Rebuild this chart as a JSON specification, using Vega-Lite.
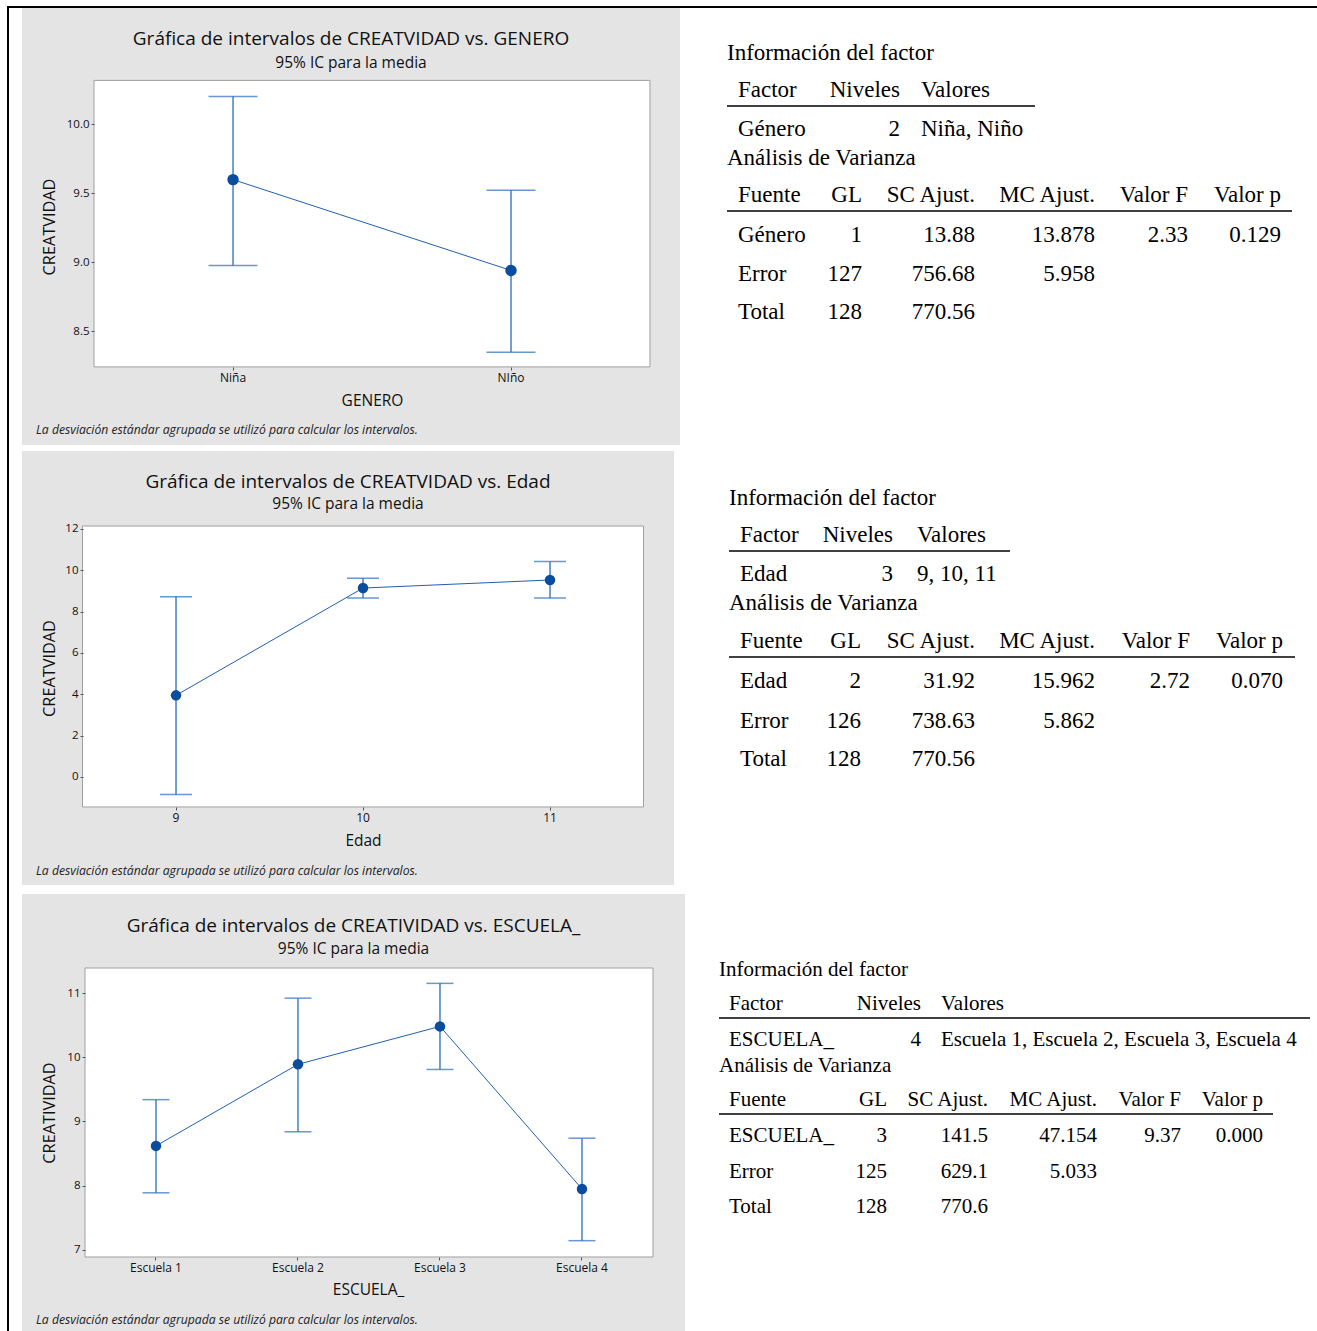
{
 "$schema": "https://vega.github.io/schema/vega-lite/v6.json",
 "background": "white",
 "padding": {"left": 7, "top": 6, "right": 0, "bottom": 0},
 "config": {"view": {"stroke": null}, "axis": {"grid": false}},
 "spacing": 0,
 "vconcat": [
  {"width": 1310, "height": 2, "view": {"fill": "black", "stroke": null}, "data": {"values": [{}]}, "mark": {"type": "point", "size": 0, "opacity": 0}},
  {"spacing": 13, "hconcat": [
   {"width": 2, "height": 1323, "view": {"fill": "black", "stroke": null}, "data": {"values": [{}]}, "mark": {"type": "point", "size": 0, "opacity": 0}},
   {"spacing": 6, "vconcat": [
    {"spacing": 0, "hconcat": [
     {"spacing": 0,
      "title": {"text": "La desviación estándar agrupada se utilizó para calcular los intervalos.", "orient": "bottom", "anchor": "start", "offset": -21, "dx": 14, "font": "Open Sans", "fontSize": 12.2, "fontStyle": "italic", "fontWeight": "normal", "color": "#222222"},
      "vconcat": [
      {"width": 658, "height": 437,
       "view": {"fill": "#e4e4e4", "stroke": null},
       "title": {"text": "Gráfica de intervalos de CREATVIDAD vs. GENERO", "subtitle": "95% IC para la media", "anchor": "middle", "offset": -63, "font": "Open Sans", "fontSize": 19, "fontWeight": "normal", "color": "#111111", "subtitleFont": "Open Sans", "subtitleFontSize": 15.5, "subtitleColor": "#111111", "subtitlePadding": 7},
       "data": {"values": [
        {"GENERO": "Niña", "media": 9.597, "inf": 8.975, "sup": 10.2},
        {"GENERO": "NIño", "media": 8.939, "inf": 8.346, "sup": 9.52}
       ]},
       "resolve": {"scale": {"x": "independent"}, "axis": {"x": "independent"}},
       "layer": [
        {"data": {"values": [{}]}, "mark": {"type": "rect", "fill": "white", "stroke": "#a0a0a0", "strokeWidth": 1},
         "encoding": {
          "x": {"datum": -0.5, "type": "quantitative", "scale": {"domain": [-0.759, 1.608], "nice": false, "zero": false}, "axis": null},
          "x2": {"datum": 1.5},
          "y": {"datum": 10.316, "type": "quantitative", "scale": {"domain": [7.674, 10.8406], "nice": false, "zero": false},
           "axis": {"zindex": 1, "values": [8.5, 9, 9.5, 10], "format": ".1f", "offset": -72, "domain": false, "tickSize": 3, "tickColor": "#555555", "labelFont": "Open Sans", "labelFontSize": 11.5, "labelColor": "#111111", "labelPadding": 2, "title": "CREATVIDAD", "titleFont": "Open Sans", "titleFontSize": 16.3, "titleFontWeight": "normal", "titleColor": "#111111", "titlePadding": 9}},
          "y2": {"datum": 8.24}}},
        {"encoding": {
          "x": {"field": "GENERO", "type": "nominal",
           "scale": {"domain": ["Niña", "NIño"], "type": "band", "paddingInner": 0, "paddingOuter": 0.1835, "align": 0.706},
           "axis": {"zindex": 1, "offset": -78, "domain": false, "tickSize": 3, "tickColor": "#555555", "labelAngle": 0, "labelFont": "Open Sans", "labelFontSize": 12, "labelColor": "#111111", "labelPadding": 2, "title": "GENERO", "titleFont": "Open Sans", "titleFontSize": 15.5, "titleFontWeight": "normal", "titleColor": "#111111", "titlePadding": 10, "titleX": 350}},
          "y": {"field": "media", "type": "quantitative",
           "scale": {"domain": [7.674, 10.8406], "nice": false, "zero": false},
           "axis": {"zindex": 1, "values": [8.5, 9, 9.5, 10], "format": ".1f", "offset": -72, "domain": false, "tickSize": 3, "tickColor": "#555555", "labelFont": "Open Sans", "labelFontSize": 11.5, "labelColor": "#111111", "labelPadding": 2, "title": "CREATVIDAD", "titleFont": "Open Sans", "titleFontSize": 16.3, "titleFontWeight": "normal", "titleColor": "#111111", "titlePadding": 9}}
         },
         "layer": [
          {"mark": {"type": "rule", "color": "#2a6bbd", "strokeWidth": 1.3},
           "encoding": {"y": {"field": "inf", "type": "quantitative", "scale": {"domain": [7.674, 10.8406], "nice": false, "zero": false},
             "axis": {"zindex": 1, "values": [8.5, 9, 9.5, 10], "format": ".1f", "offset": -72, "domain": false, "tickSize": 3, "tickColor": "#555555", "labelFont": "Open Sans", "labelFontSize": 11.5, "labelColor": "#111111", "labelPadding": 2, "title": "CREATVIDAD", "titleFont": "Open Sans", "titleFontSize": 16.3, "titleFontWeight": "normal", "titleColor": "#111111", "titlePadding": 9}},
            "y2": {"field": "sup"}}},
          {"mark": {"type": "tick", "color": "#2a6bbd", "size": 49, "thickness": 1.5},
           "encoding": {"y": {"field": "sup", "type": "quantitative", "scale": {"domain": [7.674, 10.8406], "nice": false, "zero": false},
             "axis": {"zindex": 1, "values": [8.5, 9, 9.5, 10], "format": ".1f", "offset": -72, "domain": false, "tickSize": 3, "tickColor": "#555555", "labelFont": "Open Sans", "labelFontSize": 11.5, "labelColor": "#111111", "labelPadding": 2, "title": "CREATVIDAD", "titleFont": "Open Sans", "titleFontSize": 16.3, "titleFontWeight": "normal", "titleColor": "#111111", "titlePadding": 9}}}},
          {"mark": {"type": "tick", "color": "#2a6bbd", "size": 49, "thickness": 1.5},
           "encoding": {"y": {"field": "inf", "type": "quantitative", "scale": {"domain": [7.674, 10.8406], "nice": false, "zero": false},
             "axis": {"zindex": 1, "values": [8.5, 9, 9.5, 10], "format": ".1f", "offset": -72, "domain": false, "tickSize": 3, "tickColor": "#555555", "labelFont": "Open Sans", "labelFontSize": 11.5, "labelColor": "#111111", "labelPadding": 2, "title": "CREATVIDAD", "titleFont": "Open Sans", "titleFontSize": 16.3, "titleFontWeight": "normal", "titleColor": "#111111", "titlePadding": 9}}}},
          {"mark": {"type": "line", "color": "#1f5fb0", "strokeWidth": 1}},
          {"mark": {"type": "point", "filled": true, "opacity": 1, "color": "#0a4c9e", "size": 130}}
         ]}
       ]}
     ]},
     {"width": 637, "height": 437,
      "view": {"fill": null, "stroke": null},
      "data": {"values": [
       {"r": 0, "c": 0, "t": "Información del factor"},
       {"r": 1, "c": 1, "t": "Factor"}, {"r": 1, "c": 3, "t": "Niveles"}, {"r": 1, "c": 4, "t": "Valores"},
       {"r": 2, "c": 1, "t": "Género"}, {"r": 2, "c": 3, "t": "2"}, {"r": 2, "c": 4, "t": "Niña, Niño"},
       {"r": 3, "c": 0, "t": "Análisis de Varianza"},
       {"r": 4, "c": 1, "t": "Fuente"}, {"r": 4, "c": 2, "t": "GL"}, {"r": 4, "c": 5, "t": "SC Ajust."}, {"r": 4, "c": 7, "t": "MC Ajust."}, {"r": 4, "c": 8, "t": "Valor F"}, {"r": 4, "c": 9, "t": "Valor p"},
       {"r": 5, "c": 1, "t": "Género"}, {"r": 5, "c": 2, "t": "1"}, {"r": 5, "c": 5, "t": "13.88"}, {"r": 5, "c": 7, "t": "13.878"}, {"r": 5, "c": 8, "t": "2.33"}, {"r": 5, "c": 9, "t": "0.129"},
       {"r": 6, "c": 1, "t": "Error"}, {"r": 6, "c": 2, "t": "127"}, {"r": 6, "c": 5, "t": "756.68"}, {"r": 6, "c": 7, "t": "5.958"},
       {"r": 7, "c": 1, "t": "Total"}, {"r": 7, "c": 2, "t": "128"}, {"r": 7, "c": 5, "t": "770.56"}
      ]},
      "encoding": {
       "x": {"field": "c", "type": "quantitative", "scale": {"domain": [0, 1, 2, 3, 4, 5, 6, 7, 8, 9, 10], "range": [47, 58, 182, 220, 241, 295, 355, 415, 508, 601, 612], "nice": false, "zero": false}, "axis": null},
       "y": {"field": "r", "type": "quantitative", "scale": {"domain": [0, 1, 2, 3, 4, 5, 6, 7], "range": [45, 82, 121, 150, 187, 227, 266, 304], "nice": false, "zero": false}, "axis": null}
      },
      "layer": [
       {"transform": [{"filter": "datum.c == 0 || datum.c == 1 || datum.c == 4"}],
        "mark": {"type": "text", "align": "left", "baseline": "middle", "font": "Liberation Serif", "fontSize": 23, "color": "black"},
        "encoding": {"text": {"field": "t"}}},
       {"transform": [{"filter": "datum.c == 2 || datum.c == 3 || datum.c >= 5"}],
        "mark": {"type": "text", "align": "right", "baseline": "middle", "font": "Liberation Serif", "fontSize": 23, "color": "black"},
        "encoding": {"text": {"field": "t"}}},
       {"data": {"values": [{"r": 1, "c": 0, "c2": 6}, {"r": 4, "c": 0, "c2": 10}]},
        "mark": {"type": "rule", "color": "black", "strokeWidth": 1.6, "yOffset": 16},
        "encoding": {"x2": {"field": "c2"}}}
      ]}
    ]},
    {"spacing": 0, "hconcat": [
     {"spacing": 0,
      "title": {"text": "La desviación estándar agrupada se utilizó para calcular los intervalos.", "orient": "bottom", "anchor": "start", "offset": -20, "dx": 14, "font": "Open Sans", "fontSize": 12.2, "fontStyle": "italic", "fontWeight": "normal", "color": "#222222"},
      "vconcat": [
      {"width": 652, "height": 434,
       "view": {"fill": "#e4e4e4", "stroke": null},
       "title": {"text": "Gráfica de intervalos de CREATVIDAD vs. Edad", "subtitle": "95% IC para la media", "anchor": "middle", "offset": -61, "font": "Open Sans", "fontSize": 19, "fontWeight": "normal", "color": "#111111", "subtitleFont": "Open Sans", "subtitleFontSize": 15.5, "subtitleColor": "#111111", "subtitlePadding": 5},
       "data": {"values": [
        {"Edad": 9, "media": 3.95, "inf": -0.85, "sup": 8.72},
        {"Edad": 10, "media": 9.14, "inf": 8.66, "sup": 9.61},
        {"Edad": 11, "media": 9.53, "inf": 8.66, "sup": 10.42}
       ]},
       "resolve": {"scale": {"x": "independent"}, "axis": {"x": "independent"}},
       "layer": [
        {"data": {"values": [{}]}, "mark": {"type": "rect", "fill": "white", "stroke": "#a0a0a0", "strokeWidth": 1},
         "encoding": {
          "x": {"datum": -0.5, "type": "quantitative", "scale": {"domain": [-0.8235, 2.663], "nice": false, "zero": false}, "axis": null},
          "x2": {"datum": 2.5},
          "y": {"datum": 12.14, "type": "quantitative", "scale": {"domain": [-5.225, 15.77], "nice": false, "zero": false},
           "axis": {"zindex": 1, "values": [0, 2, 4, 6, 8, 10, 12], "format": "d", "offset": -61, "domain": false, "tickSize": 3, "tickColor": "#555555", "labelFont": "Open Sans", "labelFontSize": 11.5, "labelColor": "#111111", "labelPadding": 2, "title": "CREATVIDAD", "titleFont": "Open Sans", "titleFontSize": 16.3, "titleFontWeight": "normal", "titleColor": "#111111", "titlePadding": 7}},
          "y2": {"datum": -1.45}}},
        {"encoding": {
          "x": {"field": "Edad", "type": "ordinal",
           "scale": {"domain": [9, 10, 11], "type": "band", "paddingInner": 0, "paddingOuter": 0.2433, "align": 0.665},
           "axis": {"zindex": 1, "offset": -78, "domain": false, "tickSize": 3, "tickColor": "#555555", "labelAngle": 0, "labelFont": "Open Sans", "labelFontSize": 12, "labelColor": "#111111", "labelPadding": 2, "title": "Edad", "titleFont": "Open Sans", "titleFontSize": 15.5, "titleFontWeight": "normal", "titleColor": "#111111", "titlePadding": 10, "titleX": 341}},
          "y": {"field": "media", "type": "quantitative",
           "scale": {"domain": [-5.225, 15.77], "nice": false, "zero": false},
           "axis": {"zindex": 1, "values": [0, 2, 4, 6, 8, 10, 12], "format": "d", "offset": -61, "domain": false, "tickSize": 3, "tickColor": "#555555", "labelFont": "Open Sans", "labelFontSize": 11.5, "labelColor": "#111111", "labelPadding": 2, "title": "CREATVIDAD", "titleFont": "Open Sans", "titleFontSize": 16.3, "titleFontWeight": "normal", "titleColor": "#111111", "titlePadding": 7}}
         },
         "layer": [
          {"mark": {"type": "rule", "color": "#2a6bbd", "strokeWidth": 1.3},
           "encoding": {"y": {"field": "inf", "type": "quantitative", "scale": {"domain": [-5.225, 15.77], "nice": false, "zero": false},
             "axis": {"zindex": 1, "values": [0, 2, 4, 6, 8, 10, 12], "format": "d", "offset": -61, "domain": false, "tickSize": 3, "tickColor": "#555555", "labelFont": "Open Sans", "labelFontSize": 11.5, "labelColor": "#111111", "labelPadding": 2, "title": "CREATVIDAD", "titleFont": "Open Sans", "titleFontSize": 16.3, "titleFontWeight": "normal", "titleColor": "#111111", "titlePadding": 7}},
            "y2": {"field": "sup"}}},
          {"mark": {"type": "tick", "color": "#2a6bbd", "size": 32, "thickness": 1.5},
           "encoding": {"y": {"field": "sup", "type": "quantitative", "scale": {"domain": [-5.225, 15.77], "nice": false, "zero": false},
             "axis": {"zindex": 1, "values": [0, 2, 4, 6, 8, 10, 12], "format": "d", "offset": -61, "domain": false, "tickSize": 3, "tickColor": "#555555", "labelFont": "Open Sans", "labelFontSize": 11.5, "labelColor": "#111111", "labelPadding": 2, "title": "CREATVIDAD", "titleFont": "Open Sans", "titleFontSize": 16.3, "titleFontWeight": "normal", "titleColor": "#111111", "titlePadding": 7}}}},
          {"mark": {"type": "tick", "color": "#2a6bbd", "size": 32, "thickness": 1.5},
           "encoding": {"y": {"field": "inf", "type": "quantitative", "scale": {"domain": [-5.225, 15.77], "nice": false, "zero": false},
             "axis": {"zindex": 1, "values": [0, 2, 4, 6, 8, 10, 12], "format": "d", "offset": -61, "domain": false, "tickSize": 3, "tickColor": "#555555", "labelFont": "Open Sans", "labelFontSize": 11.5, "labelColor": "#111111", "labelPadding": 2, "title": "CREATVIDAD", "titleFont": "Open Sans", "titleFontSize": 16.3, "titleFontWeight": "normal", "titleColor": "#111111", "titlePadding": 7}}}},
          {"mark": {"type": "line", "color": "#1f5fb0", "strokeWidth": 1}},
          {"mark": {"type": "point", "filled": true, "opacity": 1, "color": "#0a4c9e", "size": 110}}
         ]}
       ]}
     ]},
     {"width": 643, "height": 437,
      "view": {"fill": null, "stroke": null},
      "data": {"values": [
       {"r": 0, "c": 0, "t": "Información del factor"},
       {"r": 1, "c": 1, "t": "Factor"}, {"r": 1, "c": 3, "t": "Niveles"}, {"r": 1, "c": 4, "t": "Valores"},
       {"r": 2, "c": 1, "t": "Edad"}, {"r": 2, "c": 3, "t": "3"}, {"r": 2, "c": 4, "t": "9, 10, 11"},
       {"r": 3, "c": 0, "t": "Análisis de Varianza"},
       {"r": 4, "c": 1, "t": "Fuente"}, {"r": 4, "c": 2, "t": "GL"}, {"r": 4, "c": 5, "t": "SC Ajust."}, {"r": 4, "c": 7, "t": "MC Ajust."}, {"r": 4, "c": 8, "t": "Valor F"}, {"r": 4, "c": 9, "t": "Valor p"},
       {"r": 5, "c": 1, "t": "Edad"}, {"r": 5, "c": 2, "t": "2"}, {"r": 5, "c": 5, "t": "31.92"}, {"r": 5, "c": 7, "t": "15.962"}, {"r": 5, "c": 8, "t": "2.72"}, {"r": 5, "c": 9, "t": "0.070"},
       {"r": 6, "c": 1, "t": "Error"}, {"r": 6, "c": 2, "t": "126"}, {"r": 6, "c": 5, "t": "738.63"}, {"r": 6, "c": 7, "t": "5.862"},
       {"r": 7, "c": 1, "t": "Total"}, {"r": 7, "c": 2, "t": "128"}, {"r": 7, "c": 5, "t": "770.56"}
      ]},
      "encoding": {
       "x": {"field": "c", "type": "quantitative", "scale": {"domain": [0, 1, 2, 3, 4, 5, 6, 7, 8, 9, 10], "range": [55, 66, 187, 219, 243, 301, 336, 421, 516, 609, 621], "nice": false, "zero": false}, "axis": null},
       "y": {"field": "r", "type": "quantitative", "scale": {"domain": [0, 1, 2, 3, 4, 5, 6, 7], "range": [47, 84, 123, 152, 190, 230, 270, 308], "nice": false, "zero": false}, "axis": null}
      },
      "layer": [
       {"transform": [{"filter": "datum.c == 0 || datum.c == 1 || datum.c == 4"}],
        "mark": {"type": "text", "align": "left", "baseline": "middle", "font": "Liberation Serif", "fontSize": 23, "color": "black"},
        "encoding": {"text": {"field": "t"}}},
       {"transform": [{"filter": "datum.c == 2 || datum.c == 3 || datum.c >= 5"}],
        "mark": {"type": "text", "align": "right", "baseline": "middle", "font": "Liberation Serif", "fontSize": 23, "color": "black"},
        "encoding": {"text": {"field": "t"}}},
       {"data": {"values": [{"r": 1, "c": 0, "c2": 6}, {"r": 4, "c": 0, "c2": 10}]},
        "mark": {"type": "rule", "color": "black", "strokeWidth": 1.6, "yOffset": 16},
        "encoding": {"x2": {"field": "c2"}}}
      ]}
    ]},
    {"spacing": 0, "hconcat": [
     {"spacing": 0,
      "title": {"text": "La desviación estándar agrupada se utilizó para calcular los intervalos.", "orient": "bottom", "anchor": "start", "offset": -17, "dx": 14, "font": "Open Sans", "fontSize": 12.2, "fontStyle": "italic", "fontWeight": "normal", "color": "#222222"},
      "vconcat": [
      {"width": 663, "height": 437,
       "view": {"fill": "#e4e4e4", "stroke": null},
       "title": {"text": "Gráfica de intervalos de CREATIVIDAD vs. ESCUELA_", "subtitle": "95% IC para la media", "anchor": "middle", "offset": -63, "font": "Open Sans", "fontSize": 19, "fontWeight": "normal", "color": "#111111", "subtitleFont": "Open Sans", "subtitleFontSize": 15.5, "subtitleColor": "#111111", "subtitlePadding": 6},
       "data": {"values": [
        {"ESCUELA_": "Escuela 1", "media": 8.62, "inf": 7.89, "sup": 9.34},
        {"ESCUELA_": "Escuela 2", "media": 9.89, "inf": 8.84, "sup": 10.92},
        {"ESCUELA_": "Escuela 3", "media": 10.48, "inf": 9.81, "sup": 11.15},
        {"ESCUELA_": "Escuela 4", "media": 7.95, "inf": 7.145, "sup": 8.74}
       ]},
       "resolve": {"scale": {"x": "independent"}, "axis": {"x": "independent"}},
       "layer": [
        {"data": {"values": [{}]}, "mark": {"type": "rect", "fill": "white", "stroke": "#a0a0a0", "strokeWidth": 1},
         "encoding": {
          "x": {"datum": -0.5, "type": "quantitative", "scale": {"domain": [-0.9437, 3.7254], "nice": false, "zero": false}, "axis": null},
          "x2": {"datum": 3.5},
          "y": {"datum": 11.389, "type": "quantitative", "scale": {"domain": [5.739, 12.541], "nice": false, "zero": false},
           "axis": {"zindex": 1, "values": [7, 8, 9, 10, 11], "format": "d", "offset": -63, "domain": false, "tickSize": 3, "tickColor": "#555555", "labelFont": "Open Sans", "labelFontSize": 11.5, "labelColor": "#111111", "labelPadding": 2, "title": "CREATIVIDAD", "titleFont": "Open Sans", "titleFontSize": 16.3, "titleFontWeight": "normal", "titleColor": "#111111", "titlePadding": 9}},
          "y2": {"datum": 6.891}}},
        {"encoding": {
          "x": {"field": "ESCUELA_", "type": "nominal",
           "scale": {"domain": ["Escuela 1", "Escuela 2", "Escuela 3", "Escuela 4"], "type": "band", "paddingInner": 0, "paddingOuter": 0.3345, "align": 0.663},
           "axis": {"zindex": 1, "offset": -74, "domain": false, "tickSize": 3, "tickColor": "#555555", "labelAngle": 0, "labelFont": "Open Sans", "labelFontSize": 12, "labelColor": "#111111", "labelPadding": 2, "title": "ESCUELA_", "titleFont": "Open Sans", "titleFontSize": 15.5, "titleFontWeight": "normal", "titleColor": "#111111", "titlePadding": 9, "titleX": 346}},
          "y": {"field": "media", "type": "quantitative",
           "scale": {"domain": [5.739, 12.541], "nice": false, "zero": false},
           "axis": {"zindex": 1, "values": [7, 8, 9, 10, 11], "format": "d", "offset": -63, "domain": false, "tickSize": 3, "tickColor": "#555555", "labelFont": "Open Sans", "labelFontSize": 11.5, "labelColor": "#111111", "labelPadding": 2, "title": "CREATIVIDAD", "titleFont": "Open Sans", "titleFontSize": 16.3, "titleFontWeight": "normal", "titleColor": "#111111", "titlePadding": 9}}
         },
         "layer": [
          {"mark": {"type": "rule", "color": "#2a6bbd", "strokeWidth": 1.3},
           "encoding": {"y": {"field": "inf", "type": "quantitative", "scale": {"domain": [5.739, 12.541], "nice": false, "zero": false},
             "axis": {"zindex": 1, "values": [7, 8, 9, 10, 11], "format": "d", "offset": -63, "domain": false, "tickSize": 3, "tickColor": "#555555", "labelFont": "Open Sans", "labelFontSize": 11.5, "labelColor": "#111111", "labelPadding": 2, "title": "CREATIVIDAD", "titleFont": "Open Sans", "titleFontSize": 16.3, "titleFontWeight": "normal", "titleColor": "#111111", "titlePadding": 9}},
            "y2": {"field": "sup"}}},
          {"mark": {"type": "tick", "color": "#2a6bbd", "size": 27, "thickness": 1.5},
           "encoding": {"y": {"field": "sup", "type": "quantitative", "scale": {"domain": [5.739, 12.541], "nice": false, "zero": false},
             "axis": {"zindex": 1, "values": [7, 8, 9, 10, 11], "format": "d", "offset": -63, "domain": false, "tickSize": 3, "tickColor": "#555555", "labelFont": "Open Sans", "labelFontSize": 11.5, "labelColor": "#111111", "labelPadding": 2, "title": "CREATIVIDAD", "titleFont": "Open Sans", "titleFontSize": 16.3, "titleFontWeight": "normal", "titleColor": "#111111", "titlePadding": 9}}}},
          {"mark": {"type": "tick", "color": "#2a6bbd", "size": 27, "thickness": 1.5},
           "encoding": {"y": {"field": "inf", "type": "quantitative", "scale": {"domain": [5.739, 12.541], "nice": false, "zero": false},
             "axis": {"zindex": 1, "values": [7, 8, 9, 10, 11], "format": "d", "offset": -63, "domain": false, "tickSize": 3, "tickColor": "#555555", "labelFont": "Open Sans", "labelFontSize": 11.5, "labelColor": "#111111", "labelPadding": 2, "title": "CREATIVIDAD", "titleFont": "Open Sans", "titleFontSize": 16.3, "titleFontWeight": "normal", "titleColor": "#111111", "titlePadding": 9}}}},
          {"mark": {"type": "line", "color": "#1f5fb0", "strokeWidth": 1}},
          {"mark": {"type": "point", "filled": true, "opacity": 1, "color": "#0a4c9e", "size": 110}}
         ]}
       ]}
     ]},
     {"width": 632, "height": 437,
      "view": {"fill": null, "stroke": null},
      "data": {"values": [
       {"r": 0, "c": 0, "t": "Información del factor"},
       {"r": 1, "c": 1, "t": "Factor"}, {"r": 1, "c": 3, "t": "Niveles"}, {"r": 1, "c": 4, "t": "Valores"},
       {"r": 2, "c": 1, "t": "ESCUELA_"}, {"r": 2, "c": 3, "t": "4"}, {"r": 2, "c": 4, "t": "Escuela 1, Escuela 2, Escuela 3, Escuela 4"},
       {"r": 3, "c": 0, "t": "Análisis de Varianza"},
       {"r": 4, "c": 1, "t": "Fuente"}, {"r": 4, "c": 2, "t": "GL"}, {"r": 4, "c": 5, "t": "SC Ajust."}, {"r": 4, "c": 7, "t": "MC Ajust."}, {"r": 4, "c": 8, "t": "Valor F"}, {"r": 4, "c": 9, "t": "Valor p"},
       {"r": 5, "c": 1, "t": "ESCUELA_"}, {"r": 5, "c": 2, "t": "3"}, {"r": 5, "c": 5, "t": "141.5"}, {"r": 5, "c": 7, "t": "47.154"}, {"r": 5, "c": 8, "t": "9.37"}, {"r": 5, "c": 9, "t": "0.000"},
       {"r": 6, "c": 1, "t": "Error"}, {"r": 6, "c": 2, "t": "125"}, {"r": 6, "c": 5, "t": "629.1"}, {"r": 6, "c": 7, "t": "5.033"},
       {"r": 7, "c": 1, "t": "Total"}, {"r": 7, "c": 2, "t": "128"}, {"r": 7, "c": 5, "t": "770.6"}
      ]},
      "encoding": {
       "x": {"field": "c", "type": "quantitative", "scale": {"domain": [0, 1, 2, 3, 4, 5, 6, 7, 8, 9, 10], "range": [34, 44, 202, 236, 256, 303, 625, 412, 496, 578, 588], "nice": false, "zero": false}, "axis": null},
       "y": {"field": "r", "type": "quantitative", "scale": {"domain": [0, 1, 2, 3, 4, 5, 6, 7], "range": [76, 110, 146, 172, 206, 242, 278, 313], "nice": false, "zero": false}, "axis": null}
      },
      "layer": [
       {"transform": [{"filter": "datum.c == 0 || datum.c == 1 || datum.c == 4"}],
        "mark": {"type": "text", "align": "left", "baseline": "middle", "font": "Liberation Serif", "fontSize": 21, "color": "black"},
        "encoding": {"text": {"field": "t"}}},
       {"transform": [{"filter": "datum.c == 2 || datum.c == 3 || datum.c >= 5"}],
        "mark": {"type": "text", "align": "right", "baseline": "middle", "font": "Liberation Serif", "fontSize": 21, "color": "black"},
        "encoding": {"text": {"field": "t"}}},
       {"data": {"values": [{"r": 1, "c": 0, "c2": 6}, {"r": 4, "c": 0, "c2": 10}]},
        "mark": {"type": "rule", "color": "black", "strokeWidth": 1.6, "yOffset": 14},
        "encoding": {"x2": {"field": "c2"}}}
      ]}
    ]}
   ]}
  ]}
 ]
}
